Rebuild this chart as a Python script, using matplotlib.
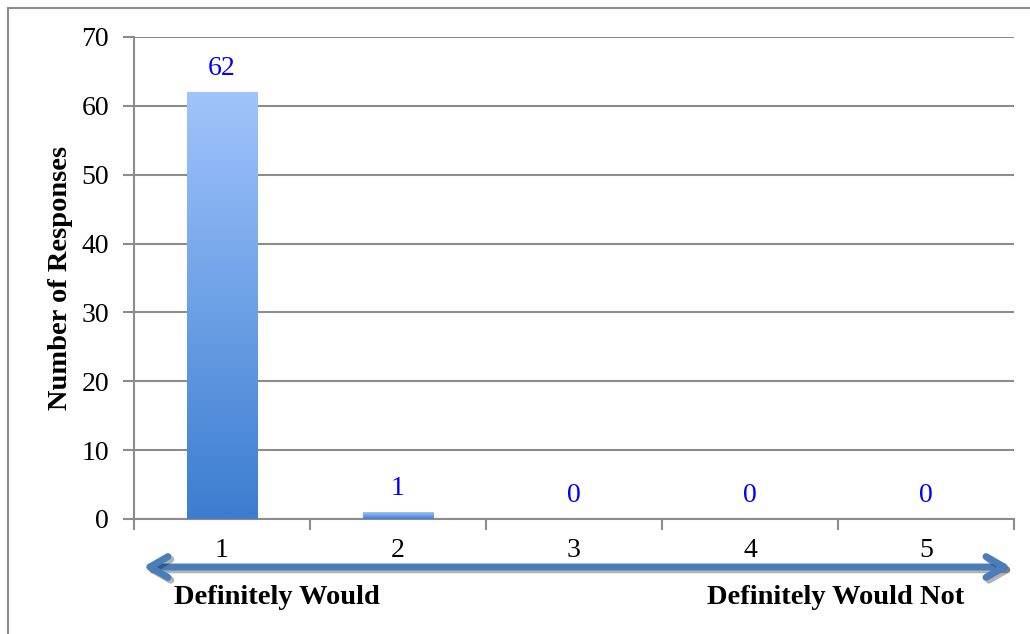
import numpy as np
import matplotlib
matplotlib.use('Agg')
from matplotlib import pyplot as plt
from matplotlib.colors import LinearSegmentedColormap
from matplotlib.patches import Rectangle
import matplotlib.patheffects as pe

categories = ['1', '2', '3', '4', '5']
responses = [62, 1, 0, 0, 0]
y_ticks = [0, 10, 20, 30, 40, 50, 60, 70]
left_label = 'Definitely Would'
right_label = 'Definitely Would Not'

plt.rcParams['font.family'] = ['Liberation Serif', 'DejaVu Serif']

W, H = 1030, 634
fig = plt.figure(figsize=(W / 100, H / 100), dpi=100)
ax = fig.add_axes([134 / W, (H - 519) / H, 880 / W, 482 / H])

x = np.arange(len(categories))
bar_w = 0.4
grad = LinearSegmentedColormap.from_list('bar', ['#3b7dd0', '#a0c4fc'])
grad_img = np.linspace(0, 1, 256).reshape(-1, 1)

for xi, v in zip(x, responses):
    if v > 0:
        # soft shadow then gradient-filled bar
        ax.add_patch(Rectangle((xi - bar_w / 2 + 0.006, -0.4), bar_w, v, facecolor='#000000',
                               alpha=0.12, edgecolor='none', zorder=2))
        ax.imshow(grad_img, cmap=grad, origin='lower', aspect='auto',
                  extent=(xi - bar_w / 2, xi + bar_w / 2, 0, v), zorder=3)
    ax.annotate(str(v), (xi, v), xytext=(0, 17), textcoords='offset points',
                ha='center', va='center', color='#0000ff', fontsize=20)

ax.set_xlim(-0.5, len(categories) - 0.5)
ax.set_ylim(0, 70)

ax.set_yticks(y_ticks)
ax.set_yticklabels([str(t) for t in y_ticks], fontsize=20)
ax.yaxis.grid(True, color='#8c8c8c', linewidth=1.5)
ax.set_axisbelow(True)

ax.set_xticks(x)
ax.set_xticklabels(categories, fontsize=20)
ax.set_xticks(np.arange(-0.5, len(categories)), minor=True)
ax.tick_params(axis='x', which='major', length=0, pad=14)
ax.tick_params(axis='x', which='minor', length=8, width=1.5, color='#8c8c8c')
ax.tick_params(axis='y', length=8, width=1.5, color='#8c8c8c', pad=10)

for s in ['top', 'right']:
    ax.spines[s].set_visible(False)
for s in ['left', 'bottom']:
    ax.spines[s].set_color('#8c8c8c')
    ax.spines[s].set_linewidth(1.5)

ax.set_ylabel('Number of Responses', fontsize=20.5, fontweight='bold', labelpad=6)

# direction arrow under the axis
arrow = ax.annotate('', xy=(143 / W, (H - 567) / H), xytext=(1011 / W, (H - 567) / H),
                    xycoords='figure fraction', textcoords='figure fraction',
                    arrowprops=dict(arrowstyle='<->,head_length=1.3,head_width=0.75',
                                    color='#4a7ebb', lw=5, shrinkA=0, shrinkB=0,
                                    capstyle='round', joinstyle='round'))
arrow.arrow_patch.set_path_effects([pe.SimpleLineShadow(offset=(2, -2), alpha=0.3), pe.Normal()])

fig.text(277 / W, (H - 597) / H, left_label, ha='center', va='center',
         fontsize=20.5, fontweight='bold')
fig.text(836 / W, (H - 597) / H, right_label, ha='center', va='center',
         fontsize=20.5, fontweight='bold')

# chart frame
fig.patches.append(Rectangle((7.5 / W, -0.05), 1.2, (H - 7.5) / H + 0.05,
                             transform=fig.transFigure, fill=False,
                             edgecolor='#8c8c8c', linewidth=1.5))

fig.savefig('out.png', dpi=100)
